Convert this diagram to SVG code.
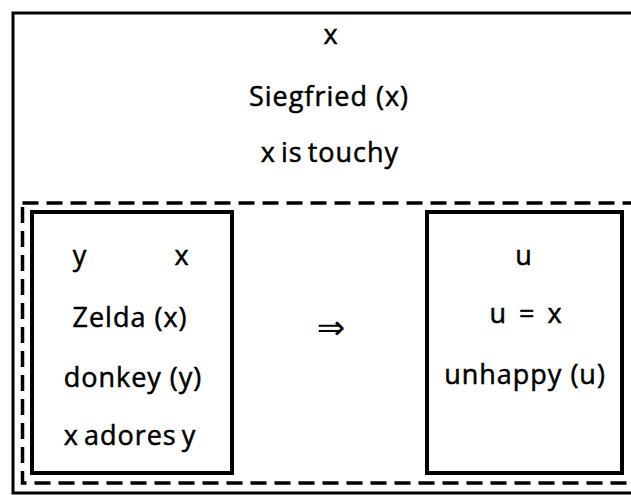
<svg xmlns="http://www.w3.org/2000/svg" width="631" height="495" viewBox="0 0 631 495">
  <style>
    .t { font-family: "Open Sans", "DejaVu Sans", sans-serif; font-size: 27px; fill: #000; stroke: #000; stroke-width: 0.5; text-anchor: middle; letter-spacing: 1px; }
    .box { fill: none; stroke: #000; stroke-width: 4; }
    .outer { fill: none; stroke: #000; stroke-width: 3; }
    .dash { fill: none; stroke: #000; stroke-width: 3.5; stroke-dasharray: 16 8; }
    .arr { font-family: "DejaVu Sans", sans-serif; font-size: 34px; fill: #000; text-anchor: middle; }
  </style>
  <rect width="631" height="495" fill="#fff"/>
  <g id="outer-drs">
    <rect class="outer" x="13" y="13" width="640" height="480"/>
    <text class="t" x="331" y="44">x</text>
    <text class="t" x="329" y="106">Siegfried (x)</text>
    <text class="t" x="330" y="162" word-spacing="-3">x is touchy</text>
  </g>
  <g id="conditional">
    <rect class="dash" x="22.5" y="203" width="630" height="280"/>
  </g>
  <g id="antecedent">
    <rect class="box" x="32" y="212" width="200" height="261"/>
    <text class="t" x="80" y="265">y</text>
    <text class="t" x="182" y="265">x</text>
    <text class="t" x="130" y="327">Zelda (x)</text>
    <text class="t" x="133" y="387">donkey (y)</text>
    <text class="t" x="130" y="445" word-spacing="-3">x adores y</text>
  </g>
  <g id="connectors">
    <text class="arr" x="331" y="339">⇒</text>
  </g>
  <g id="consequent">
    <rect class="box" x="427" y="212" width="195" height="261"/>
    <text class="t" x="524" y="265">u</text>
    <text class="t" x="526" y="323" word-spacing="4">u = x</text>
    <text class="t" x="525" y="384">unhappy (u)</text>
  </g>
</svg>
